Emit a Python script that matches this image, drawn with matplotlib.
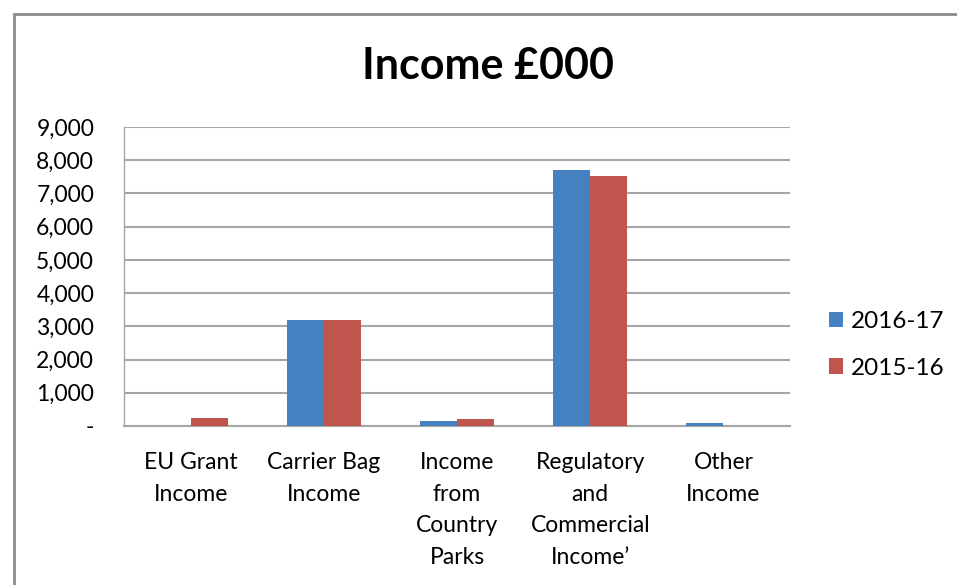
import matplotlib
matplotlib.use("Agg")
import matplotlib.pyplot as plt
from matplotlib.patches import Rectangle
from matplotlib.ticker import FuncFormatter

categories = ["EU Grant\nIncome", "Carrier Bag\nIncome", "Income\nfrom\nCountry\nParks",
              "Regulatory\nand\nCommercial\nIncome\u2019", "Other\nIncome"]
series_names = ["2016-17", "2015-16"]
values_2016_17 = [0, 3200, 160, 7700, 90]
values_2015_16 = [240, 3200, 200, 7520, 0]
yticks = [0, 1000, 2000, 3000, 4000, 5000, 6000, 7000, 8000, 9000]

plt.rcParams['font.family'] = ['Lato', 'DejaVu Sans']

fig = plt.figure(figsize=(9.57, 5.85), dpi=100)
ax = fig.add_axes([124/957, 1-426/585, (790-124)/957, (426-127)/585])

blue = "#4581C0"
red = "#C0554D"
w = 0.28
x = list(range(len(categories)))
ax.bar([i - w/2 for i in x], values_2016_17, width=w, color=blue, label=series_names[0], zorder=3)
ax.bar([i + w/2 for i in x], values_2015_16, width=w, color=red, label=series_names[1], zorder=3)

ax.set_xlim(-0.5, len(categories) - 0.5)
ax.set_ylim(0, 9000)
ax.set_yticks(yticks)
ax.yaxis.set_major_formatter(FuncFormatter(lambda v, p: "-" if v == 0 else f"{int(v):,}"))
ax.set_xticks(x)
ax.set_xticklabels(categories, fontsize=16.5, linespacing=1.62, va="top")
ax.tick_params(axis="y", labelsize=16.5, length=0, pad=21.5)
ax.tick_params(axis="x", length=0, pad=19)
ax.grid(axis="y", color="#A6A6A6", linewidth=1.5, zorder=0)
for s in ["top", "right"]:
    ax.spines[s].set_visible(False)
ax.spines["bottom"].set_color("#A6A6A6")
ax.spines["bottom"].set_linewidth(1.5)
ax.spines["left"].set_color("#A6A6A6")
ax.spines["left"].set_linewidth(1.0)

fig.text(488/957, 1-66/585, "Income \u00a3000", ha="center", va="center", fontsize=31, fontweight="bold")

leg = fig.legend(loc="center left", bbox_to_anchor=(807/957, 1-345/585), frameon=False,
                 fontsize=17.5, handlelength=0.6, handleheight=0.6, handletextpad=0.3,
                 labelspacing=1.05)

fig.patches.append(Rectangle((14/957, -0.1), 1.2, 1 - 14/585 + 0.1, transform=fig.transFigure,
                             fill=False, edgecolor="#8C8C8C", linewidth=2, clip_on=False))

fig.savefig("out.png", dpi=100)
